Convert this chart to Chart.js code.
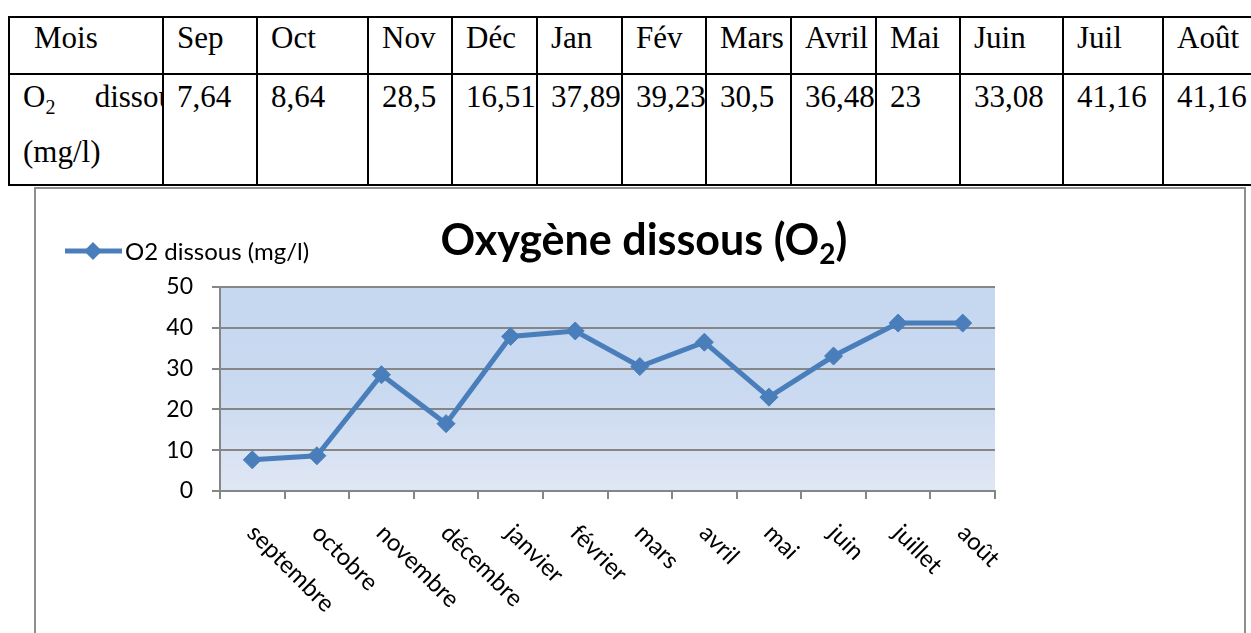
<!DOCTYPE html>
<html>
<head>
<meta charset="utf-8">
<script src="https://cdn.jsdelivr.net/npm/chart.js@4.4.1/dist/chart.umd.min.js"></script>
<style>
  html, body { margin: 0; padding: 0; width: 1251px; height: 633px; overflow: hidden; background: #fff; }
  #tbl { position: absolute; left: 8px; top: 16px; border-collapse: collapse; table-layout: fixed; width: 1245px;
         font-family: "Liberation Serif", "Times New Roman", serif; font-size: 31px; color: #000; }
  #tbl td { border: 2px solid #000; padding: 0 0 0 13px; vertical-align: top; white-space: nowrap; overflow: hidden; }
  #tbl tr.head td { height: 55px; line-height: 39px; }
  #tbl tr.vals td { height: 109px; line-height: 51px; }
  #tbl .lbl { width: 163px; white-space: normal; text-align: justify; position: relative; top: -4px; }
  #tbl .num { position: relative; top: -4px; }
  #tbl .sub { font-size: 20px; position: relative; top: 7px; }
  #frame { position: absolute; left: 34px; top: 187px; width: 1208px; height: 460px; border: 2px solid #8f8f8f; }
  #myChart { display: block; }
</style>
</head>
<body>
<table id="tbl">
  <colgroup id="cols"></colgroup>
  <tr class="head" id="headRow"></tr>
  <tr class="vals" id="valRow"></tr>
</table>
<div id="frame"><canvas id="myChart" width="1208" height="458"></canvas></div>

<script>
// data
const tableMonths = ['Sep', 'Oct', 'Nov', 'Déc', 'Jan', 'Fév', 'Mars', 'Avril', 'Mai', 'Juin', 'Juil', 'Août'];
const months = ['septembre', 'octobre', 'novembre', 'décembre', 'janvier', 'février', 'mars', 'avril', 'mai', 'juin', 'juillet', 'août'];
const o2Values = [7.64, 8.64, 28.5, 16.51, 37.89, 39.23, 30.5, 36.48, 23, 33.08, 41.16, 41.16];
const yTicks = [0, 10, 20, 30, 40, 50];
const seriesLabel = 'O2 dissous (mg/l)';

// table layout
const colWidths = [154, 94, 111, 84, 85, 85, 84, 85, 85, 84, 103, 100, 91];

function buildTable() {
  const cols = document.getElementById('cols');
  colWidths.forEach(w => {
    const c = document.createElement('col');
    c.style.width = w + 'px';
    cols.appendChild(c);
  });
  const headRow = document.getElementById('headRow');
  const valRow = document.getElementById('valRow');

  let td = document.createElement('td');
  td.textContent = 'Mois';
  td.style.paddingLeft = '24px';
  headRow.appendChild(td);
  td = document.createElement('td');
  td.innerHTML = '<div class="lbl">O<span class="sub">2</span> dissous (mg/l)</div>';
  valRow.appendChild(td);

  tableMonths.forEach((m, i) => {
    const h = document.createElement('td');
    h.textContent = m;
    headRow.appendChild(h);
    const v = document.createElement('td');
    v.innerHTML = '<div class="num">' + String(o2Values[i]).replace('.', ',') + '</div>';
    valRow.appendChild(v);
  });
}

const lineColor = '#4a7ebb';
const axisColor = '#868686';

const decorPlugin = {
  id: 'decor',
  beforeDraw(chart) {
    const ctx = chart.ctx;
    const a = chart.chartArea;
    const g = ctx.createLinearGradient(0, a.top, 0, a.bottom);
    g.addColorStop(0, '#c5d8f0');
    g.addColorStop(0.5, '#c9d9f0');
    g.addColorStop(1, '#e0e7f4');
    ctx.save();
    ctx.fillStyle = g;
    ctx.fillRect(a.left, a.top, a.right - a.left, a.bottom - a.top);
    ctx.restore();
  },
  afterDraw(chart) {
    const ctx = chart.ctx;
    const a = chart.chartArea;
    const xs = chart.scales.x;

    // rotated month labels
    ctx.save();
    ctx.fillStyle = '#000';
    ctx.font = '24px Lato';
    ctx.textAlign = 'left';
    ctx.textBaseline = 'middle';
    months.forEach((m, i) => {
      const x = xs.getPixelForValue(i);
      ctx.save();
      ctx.translate(x - 1, a.bottom + 38);
      ctx.rotate(Math.PI / 4);
      ctx.fillText(m, 0, 0);
      ctx.restore();
    });
    ctx.restore();

    // legend
    ctx.save();
    const ly = 62;
    ctx.strokeStyle = lineColor;
    ctx.lineWidth = 5;
    ctx.beginPath();
    ctx.moveTo(29, ly);
    ctx.lineTo(86, ly);
    ctx.stroke();
    ctx.fillStyle = lineColor;
    ctx.beginPath();
    ctx.moveTo(57, ly - 9);
    ctx.lineTo(66, ly);
    ctx.lineTo(57, ly + 9);
    ctx.lineTo(48, ly);
    ctx.closePath();
    ctx.fill();
    ctx.fillStyle = '#000';
    ctx.font = '24px Lato';
    ctx.textBaseline = 'middle';
    ctx.fillText(seriesLabel, 89, ly + 1);
    ctx.restore();

    // title with subscript
    ctx.save();
    ctx.fillStyle = '#000';
    ctx.textBaseline = 'alphabetic';
    const big = 'bold 43px Lato';
    const small = 'bold 28px Lato';
    const p1 = 'Oxygène dissous (O', p2 = '2', p3 = ')';
    ctx.font = big;
    const w1 = ctx.measureText(p1).width, w3 = ctx.measureText(p3).width;
    ctx.font = small;
    const w2 = ctx.measureText(p2).width;
    let tx = 608 - (w1 + w2 + w3) / 2;
    const base = 66;
    ctx.font = big;
    ctx.fillText(p1, tx, base);
    tx += w1;
    ctx.font = small;
    ctx.fillText(p2, tx, base + 9);
    tx += w2;
    ctx.font = big;
    ctx.fillText(p3, tx, base);
    ctx.restore();
  }
};

function drawChart() {
  const ctx = document.getElementById('myChart').getContext('2d');
  window.myChartInstance = new Chart(ctx, {
    type: 'line',
    data: {
      labels: months,
      datasets: [{
        label: seriesLabel,
        data: o2Values,
        borderColor: lineColor,
        backgroundColor: lineColor,
        borderWidth: 5,
        pointStyle: 'rectRot',
        pointRadius: 9,
        pointBorderWidth: 1,
        pointBackgroundColor: lineColor,
        pointBorderColor: lineColor,
        tension: 0
      }]
    },
    options: {
      responsive: false,
      animation: false,
      devicePixelRatio: 1,
      layout: { padding: { left: 0, right: 249, top: 98, bottom: 0 } },
      scales: {
        x: {
          offset: true,
          grid: { offset: true, drawOnChartArea: false, drawTicks: true, tickLength: 8, color: axisColor, lineWidth: 2 },
          border: { color: axisColor, width: 2 },
          ticks: { display: false },
          afterFit: s => { s.height = 156; }
        },
        y: {
          min: yTicks[0],
          max: yTicks[yTicks.length - 1],
          afterBuildTicks: s => { s.ticks = yTicks.map(v => ({ value: v })); },
          grid: { color: axisColor, lineWidth: 2, tickLength: 8, tickColor: axisColor },
          border: { color: axisColor, width: 2 },
          ticks: { color: '#000', font: { family: 'Lato', size: 23 }, padding: 19 },
          afterFit: s => { s.width = 184; }
        }
      },
      plugins: {
        legend: { display: false },
        title: { display: false },
        tooltip: { enabled: false }
      }
    },
    plugins: [decorPlugin]
  });
}

document.addEventListener('DOMContentLoaded', () => {
  buildTable();
  drawChart();
});
</script>
</body>
</html>
